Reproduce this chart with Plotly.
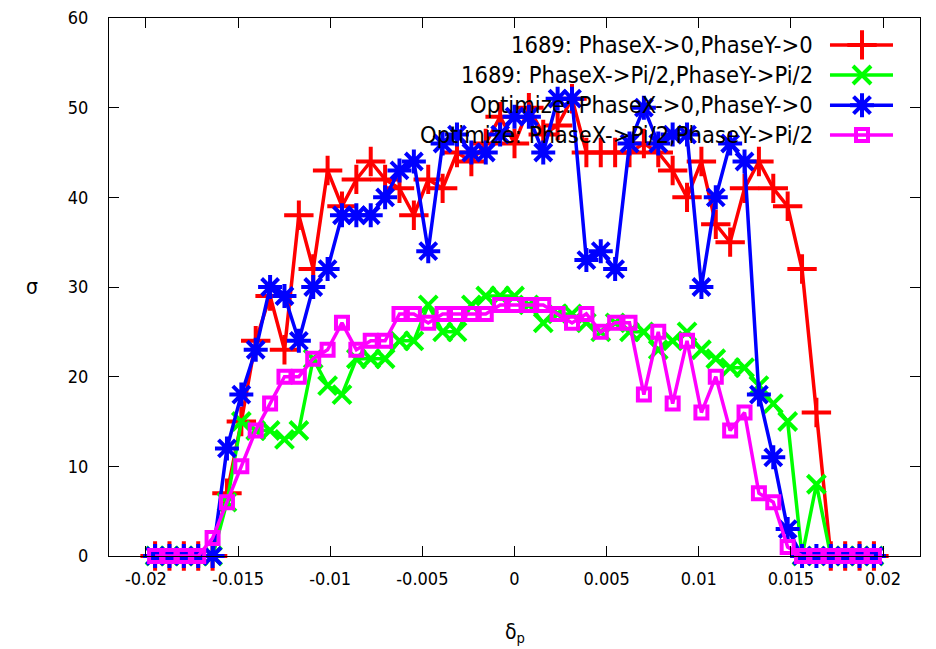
import plotly.graph_objects as go

# ---- data ----
delta_p = [-0.0195, -0.01872, -0.01794, -0.01716, -0.01638, -0.0156, -0.01482, -0.01404,
           -0.01326, -0.01248, -0.0117, -0.01092, -0.01014, -0.00936, -0.00858, -0.0078,
           -0.00702, -0.00624, -0.00546, -0.00468, -0.0039, -0.00312, -0.00234, -0.00156,
           -0.00078, 0.0, 0.00078, 0.00156, 0.00234, 0.00312, 0.0039, 0.00468, 0.00546,
           0.00624, 0.00702, 0.0078, 0.00858, 0.00936, 0.01014, 0.01092, 0.0117, 0.01248,
           0.01326, 0.01404, 0.01482, 0.0156, 0.01638, 0.01716, 0.01794, 0.01872, 0.0195]

sigma_1689_0 = [0, 0, 0, 0, 0, 7, 15, 24, 29, 23, 38, 32, 43, 39, 42, 44, 42, 41, 38, 42,
                41, 45, 44, 46, 49, 46, 50, 47, 48, 51, 45, 45, 45, 45, 46, 45, 43, 40, 44, 37,
                35, 41, 44, 41, 39, 32, 16, 0, 0, 0, 0]
sigma_1689_pi2 = [0, 0, 0, 0, 0, 6, 15, 14, 14, 13, 14, 22, 19, 18, 22, 22, 22, 24, 24, 28,
                  25, 25, 28, 29, 29, 29, 28, 26, 27, 27, 26, 25, 26, 25, 25, 23, 24, 25, 23, 22,
                  21, 21, 19, 17, 15, 0, 8, 0, 0, 0, 0]
sigma_opt_0 = [0, 0, 0, 0, 0, 12, 18, 23, 30, 29, 24, 30, 32, 38, 38, 38, 40, 43, 44, 34,
               46, 47, 45, 45, 47, 49, 49, 45, 51, 51, 33, 34, 32, 46, 50, 46, 47, 47, 30, 40,
               46, 44, 18, 11, 3, 0, 0, 0, 0, 0, 0]
sigma_opt_pi2 = [0, 0, 0, 0, 2, 6, 10, 14, 17, 20, 20, 22, 23, 26, 23, 24, 24, 27, 27, 26,
                 27, 27, 27, 27, 28, 28, 28, 28, 27, 26, 27, 25, 26, 26, 18, 25, 17, 24, 16, 20,
                 14, 16, 7, 6, 1, 0, 0, 0, 0, 0, 0]

series_names = ["1689: PhaseX->0,PhaseY->0",
                "1689: PhaseX->Pi/2,PhaseY->Pi/2",
                "Optimize: PhaseX->0,PhaseY->0",
                "Optimize: PhaseX->Pi/2,PhaseY->Pi/2"]
series_values = [sigma_1689_0, sigma_1689_pi2, sigma_opt_0, sigma_opt_pi2]

x_tick_vals = [-0.02, -0.015, -0.01, -0.005, 0, 0.005, 0.01, 0.015, 0.02]
x_tick_text = ["-0.02", "-0.015", "-0.01", "-0.005", "0", "0.005", "0.01", "0.015", "0.02"]
y_tick_vals = [0, 10, 20, 30, 40, 50, 60]

# ---- styles ----
colors = ["#ff0000", "#00ff00", "#0000ff", "#ff00ff"]
symbols = ["cross-thin-open", "x-thin-open", "asterisk-open", "square-open"]
msizes = [21, 18, 20, 12]
mlw = [4, 4, 4, 4]
FONT = "DejaVu Sans Condensed, Liberation Sans Narrow, DejaVu Sans, sans-serif"

fig = go.Figure()
for name, vals, c, s, ms, lw in zip(series_names, series_values, colors, symbols, msizes, mlw):
    fig.add_trace(go.Scatter(
        x=delta_p, y=vals, mode="lines+markers", name=name, showlegend=False,
        line=dict(color=c, width=3.5),
        marker=dict(symbol=s, size=ms, color=c, line=dict(color=c, width=lw)),
        cliponaxis=False,
    ))

# manual gnuplot-style key (text right, sample at right)
key_rows = [0.950, 0.894, 0.838, 0.7825]
for name, c, s, ms, lw, yk in zip(series_names, colors, symbols, msizes, mlw, key_rows):
    fig.add_trace(go.Scatter(x=[0.889, 0.9667], y=[yk, yk], mode="lines", xaxis="x2", yaxis="y2",
                             showlegend=False, hoverinfo="skip",
                             line=dict(color=c, width=3.5)))
    fig.add_trace(go.Scatter(x=[0.9285], y=[yk], mode="markers", xaxis="x2", yaxis="y2",
                             showlegend=False, hoverinfo="skip",
                             marker=dict(symbol=s, size=ms, color=c, line=dict(color=c, width=lw))))
    fig.add_annotation(x=0.8705, y=yk, xref="paper", yref="paper", text=name, showarrow=False,
                       xanchor="right", yanchor="middle", font=dict(size=23.5, color="black", family=FONT))

fig.add_annotation(x=-0.095, y=0.5, xref="paper", yref="paper", text="σ", showarrow=False,
                   xanchor="center", yanchor="middle", font=dict(size=21, color="black", family=FONT))
fig.add_annotation(x=0.50, y=-0.143, xref="paper", yref="paper", text="δ<sub>p</sub>", showarrow=False,
                   xanchor="center", yanchor="middle", font=dict(size=21, color="black", family=FONT))

axis_common = dict(showline=True, linecolor="black", linewidth=1, mirror="ticks", ticks="inside",
                   ticklen=10, tickcolor="black", tickwidth=1, showgrid=False, zeroline=False,
                   ticklabeloverflow="allow", automargin=False,
                   tickfont=dict(size=18, color="black", family=FONT))
fig.update_layout(
    width=928, height=641,
    margin=dict(l=101, r=16, t=10, b=93),
    paper_bgcolor="white", plot_bgcolor="white",
    xaxis=dict(range=[-0.022, 0.022], tickvals=x_tick_vals, ticktext=x_tick_text,
               ticklabelstandoff=6, **axis_common),
    yaxis=dict(range=[0, 60], tickvals=y_tick_vals, ticklabelstandoff=16, **axis_common),
    xaxis2=dict(range=[0, 1], overlaying="x", visible=False, fixedrange=True),
    yaxis2=dict(range=[0, 1], overlaying="y", visible=False, fixedrange=True),
)

fig.write_html("out.html")
